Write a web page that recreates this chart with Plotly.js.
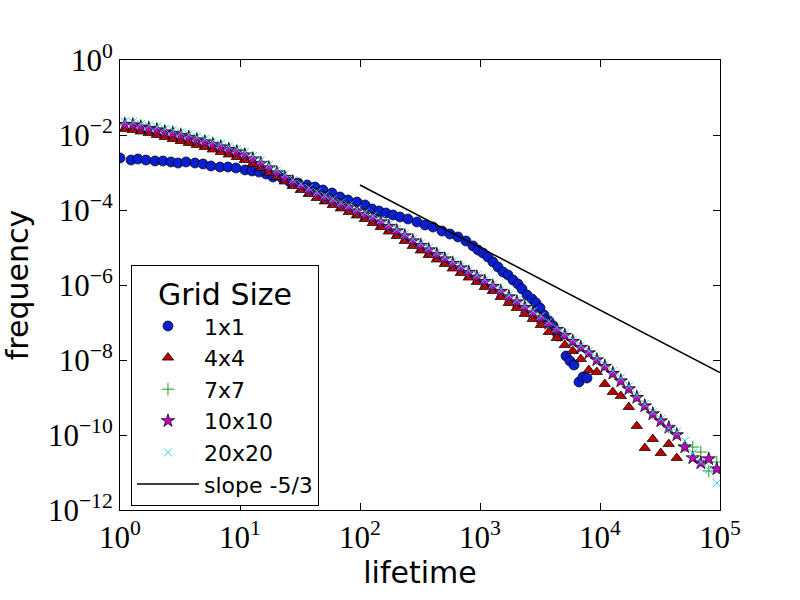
<!DOCTYPE html>
<html>
<head>
<meta charset="utf-8">
<script src="https://cdn.plot.ly/plotly-3.0.1.min.js"></script>
<style>html,body{margin:0;padding:0;background:#fff;}#chart{width:800px;height:600px;}</style>
</head>
<body>
<div id="chart"></div>
<script>
// ---- data ----
const lifetimeBins = [1.0965, 1.2786, 1.4906, 1.7378, 2.026, 2.362, 2.754, 3.211, 3.743, 4.365, 5.089, 5.933, 6.918, 8.065, 9.405,
  10.965, 12.786, 14.906, 17.378, 20.26, 23.62, 27.54, 32.11, 37.43, 43.65, 50.89, 59.33, 69.18, 80.65, 94.05,
  109.65, 127.86, 149.06, 173.78, 202.6, 236.2, 275.4, 321.1, 374.3, 436.5, 508.9, 593.3, 691.8, 806.5, 940.5,
  1096.5, 1278.6, 1490.6, 1737.8, 2026, 2362, 2754, 3211, 3743, 4365, 5089, 5933, 6918, 8065, 9405,
  10965, 12786, 14906, 17378, 20260, 23620, 27540, 32110, 37430, 43650, 50890, 59330, 69180, 80650, 94050];

const lifetime1x1 = [1.0, 1.235, 1.413, 1.647, 1.957, 2.282, 2.661, 3.043, 3.548, 4.217, 4.916, 5.731, 6.813, 7.943, 9.261,
  11.01, 12.59, 14.40, 16.47, 18.84, 22.39, 26.10, 30.43, 36.16, 42.17, 49.16, 58.45, 68.13, 79.43, 94.41,
  110.1, 125.9, 144.0, 164.7, 188.4, 215.4, 251.2, 298.5, 348.1, 405.8, 482.4, 562.3, 655.6, 764.2, 874.5,
  962.7, 1059, 1166, 1283, 1413, 1555, 1712, 1884, 2074, 2239, 2465, 2714, 2929, 3162, 3415, 3758, 4058, 4467,
  5210, 5623, 6072, 6683, 7217, 7794];
const freq1x1 = [2.44e-3, 2.15e-3, 2.29e-3, 2.15e-3, 2.03e-3, 2.03e-3, 1.91e-3, 1.79e-3, 1.91e-3, 1.79e-3, 1.69e-3, 1.49e-3, 1.40e-3, 1.40e-3, 1.32e-3,
  1.17e-3, 1.10e-3, 1.03e-3, 9.12e-4, 7.59e-4, 7.13e-4, 5.58e-4, 5.25e-4, 4.64e-4, 4.10e-4, 3.41e-4, 2.84e-4, 2.22e-4, 1.85e-4, 1.63e-4,
  1.36e-4, 1.06e-4, 9.4e-5, 8.32e-5, 7.36e-5, 6.5e-5, 5.75e-5, 4.79e-5, 3.98e-5, 3.52e-5, 2.75e-5, 2.29e-5, 1.91e-5, 1.49e-5, 1.10e-5,
  8.58e-6, 7.13e-6, 5.58e-6, 4.10e-6, 3.02e-6, 2.22e-6, 1.85e-6, 1.36e-6, 1.06e-6, 7.82e-7, 5.41e-7, 4.23e-7, 3.31e-7, 2.44e-7, 1.58e-7, 1.10e-7, 8.07e-8, 4.37e-8,
  1.28e-8, 9.4e-9, 7.36e-9, 2.59e-9, 3.52e-9, 3.31e-9];

const freq4x4 = [1.45e-2, 1.36e-2, 1.24e-2, 1.13e-2, 1.0e-2, 8.85e-3, 7.82e-3, 6.92e-3, 6.12e-3, 5.41e-3, 4.79e-3, 4.10e-3, 3.52e-3, 3.02e-3, 2.59e-3,
  2.15e-3, 1.69e-3, 1.32e-3, 1.0e-3, 7.59e-4, 5.75e-4, 4.37e-4, 3.41e-4, 2.67e-4, 2.09e-4, 1.69e-4, 1.36e-4, 1.10e-4, 8.85e-5, 7.13e-5,
  5.75e-5, 4.5e-5, 3.52e-5, 2.67e-5, 2.03e-5, 1.49e-5, 1.10e-5, 8.32e-6, 6.31e-6, 4.79e-6, 3.63e-6, 2.75e-6, 2.09e-6, 1.58e-6, 1.20e-6,
  8.85e-7, 6.92e-7, 4.79e-7, 3.31e-7, 2.44e-7, 1.69e-7, 1.24e-7, 8.58e-8, 5.58e-8, 3.86e-8, 2.51e-8, 1.74e-8, 1.06e-8, 5.41e-9, 4.79e-9,
  2.29e-9, 1.40e-9, 1.10e-9, 5.58e-10, 1.74e-10, 4.5e-11, 7.82e-11, 3.31e-11, 5.75e-11, 2.44e-11];

const freq7x7 = [2.10e-2, 2.04e-2, 1.79e-2, 1.64e-2, 1.50e-2, 1.32e-2, 1.21e-2, 1.07e-2, 9.44e-3, 8.1e-3, 7.15e-3, 6.14e-3, 5.27e-3, 4.51e-3, 3.87e-3,
  3.22e-3, 2.52e-3, 1.91e-3, 1.45e-3, 1.07e-3, 8.1e-4, 6.14e-4, 4.81e-4, 3.75e-4, 2.94e-4, 2.37e-4, 1.91e-4, 1.54e-4, 1.29e-4, 1.03e-4,
  8.35e-5, 6.73e-5, 5.27e-5, 3.99e-5, 3.03e-5, 2.23e-5, 1.64e-5, 1.24e-5, 9.44e-6, 7.15e-6, 5.42e-6, 4.11e-6, 3.12e-6, 2.37e-6, 1.79e-6,
  1.36e-6, 1.0e-6, 7.38e-7, 5.27e-7, 3.87e-7, 2.76e-7, 1.97e-7, 1.45e-7, 1.03e-7, 7.15e-8, 4.95e-8, 3.42e-8, 2.37e-8, 1.69e-8, 1.1e-8,
  7.38e-9, 4.81e-9, 3.03e-9, 1.86e-9, 1.1e-9, 6.52e-10, 3.99e-10, 2.6e-10, 1.63e-10, 1.13e-10, 5.09e-11, 4.79e-11, 3.52e-11, 1.10e-11, 1.91e-11];

const freq10x10 = [1.905e-2, 1.85e-2, 1.63e-2, 1.49e-2, 1.36e-2, 1.20e-2, 1.10e-2, 9.7e-3, 8.58e-3, 7.36e-3, 6.5e-3, 5.58e-3, 4.79e-3, 4.10e-3, 3.52e-3,
  2.93e-3, 2.29e-3, 1.74e-3, 1.32e-3, 9.7e-4, 7.36e-4, 5.58e-4, 4.37e-4, 3.41e-4, 2.67e-4, 2.15e-4, 1.74e-4, 1.40e-4, 1.17e-4, 9.4e-5,
  7.59e-5, 6.12e-5, 4.79e-5, 3.63e-5, 2.75e-5, 2.03e-5, 1.49e-5, 1.13e-5, 8.58e-6, 6.5e-6, 4.93e-6, 3.74e-6, 2.84e-6, 2.15e-6, 1.63e-6,
  1.24e-6, 9.12e-7, 6.71e-7, 4.79e-7, 3.52e-7, 2.51e-7, 1.79e-7, 1.32e-7, 9.4e-8, 6.5e-8, 4.5e-8, 3.11e-8, 2.15e-8, 1.54e-8, 1.0e-8,
  6.71e-9, 4.37e-9, 2.75e-9, 1.69e-9, 1.0e-9, 5.93e-10, 3.63e-10, 2.36e-10, 1.58e-10, 1.0e-10, 4.79e-11, 2.44e-11, 1.79e-11, 2.29e-11, 1.24e-11];

const freq20x20 = [2.29e-2, 2.22e-2, 1.97e-2, 1.79e-2, 1.63e-2, 1.45e-2, 1.32e-2, 1.17e-2, 1.03e-2, 8.85e-3, 7.82e-3, 6.71e-3, 5.75e-3, 4.93e-3, 4.23e-3,
  3.52e-3, 2.75e-3, 2.09e-3, 1.58e-3, 1.17e-3, 8.85e-4, 6.31e-4, 4.94e-4, 3.85e-4, 3.02e-4, 2.43e-4, 1.97e-4, 1.58e-4, 1.32e-4, 1.06e-4,
  8.58e-5, 6.92e-5, 5.41e-5, 4.10e-5, 3.11e-5, 2.29e-5, 1.68e-5, 1.28e-5, 9.7e-6, 7.35e-6, 5.57e-6, 4.23e-6, 3.21e-6, 2.43e-6, 1.84e-6,
  1.40e-6, 1.03e-6, 7.58e-7, 5.41e-7, 3.98e-7, 2.84e-7, 2.02e-7, 1.49e-7, 1.06e-7, 7.35e-8, 5.09e-8, 3.51e-8, 2.43e-8, 1.74e-8, 1.13e-8,
  7.58e-9, 5.09e-9, 3.31e-9, 2.03e-9, 1.17e-9, 6.71e-10, 4.10e-10, 2.67e-10, 1.54e-10, 1.20e-10, 6.92e-11, 3.31e-11, 1.91e-11, 1.17e-11, 5.25e-12];

const slopeX = [100, 100000];
const slopeY = [4.64e-4, 4.64e-9];

const seriesNames = ['1x1', '4x4', '7x7', '10x10', '20x20', 'slope -5/3'];
const xTickVals = [1, 10, 100, 1000, 10000, 100000];
const xTickText = ['10<sup>0</sup>', '10<sup>1</sup>', '10<sup>2</sup>', '10<sup>3</sup>', '10<sup>4</sup>', '10<sup>5</sup>'];
const yTickVals = [1, 1e-2, 1e-4, 1e-6, 1e-8, 1e-10, 1e-12];
const yTickText = ['10<sup>0</sup>', '10<sup>−2</sup>', '10<sup>−4</sup>', '10<sup>−6</sup>', '10<sup>−8</sup>', '10<sup>−10</sup>', '10<sup>−12</sup>'];

// ---- traces ----
const traces = [
  {x: lifetime1x1, y: freq1x1, name: seriesNames[0], mode: 'markers', type: 'scatter', legendgroup: 'a',
   marker: {symbol: 'circle', size: 10, color: '#0a1fd2', line: {color: '#000', width: 0.7}}},
  {x: lifetimeBins.slice(0, freq4x4.length), y: freq4x4, name: seriesNames[1], mode: 'markers', type: 'scatter', legendgroup: 'b',
   marker: {symbol: 'triangle-up', size: 10, color: '#b80000', line: {color: '#000', width: 0.7}}},
  {x: lifetimeBins.slice(0, freq7x7.length), y: freq7x7, name: seriesNames[2], mode: 'markers', type: 'scatter', legendgroup: 'c',
   marker: {symbol: 'cross-thin-open', size: 9, color: '#1a9a1a', line: {color: '#1a9a1a', width: 1}}},
  {x: lifetimeBins.slice(0, freq10x10.length), y: freq10x10, name: seriesNames[3], mode: 'markers', type: 'scatter', legendgroup: 'd',
   marker: {symbol: 'star', size: 10, color: '#bf00bf', line: {color: '#000', width: 0.7}}},
  {x: lifetimeBins.slice(0, freq20x20.length), y: freq20x20, name: seriesNames[4], mode: 'markers', type: 'scatter', legendgroup: 'e',
   marker: {symbol: 'x-thin-open', size: 8, color: '#22d4d4', line: {color: '#22d4d4', width: 1}}},
  {x: slopeX, y: slopeY, name: seriesNames[5], mode: 'lines', type: 'scatter', legendgroup: 'f',
   line: {color: '#000', width: 1.5}}
];

const tickFont = {family: 'Liberation Serif, DejaVu Serif, serif', size: 31, color: '#000'};
const layout = {
  width: 800, height: 600,
  margin: {l: 120, r: 80, t: 60, b: 90},
  paper_bgcolor: '#fff', plot_bgcolor: '#fff',
  font: {family: 'DejaVu Sans, sans-serif', color: '#000'},
  showlegend: true,
  xaxis: {
    type: 'log', range: [0, 5], tickvals: xTickVals, ticktext: xTickText,
    ticks: 'inside', ticklen: 7, tickcolor: '#000', tickwidth: 1,
    showline: true, linecolor: '#000', linewidth: 1, mirror: 'ticks',
    showgrid: false, zeroline: false, tickfont: tickFont, automargin: true,
    title: {text: 'lifetime', font: {size: 30, family: 'DejaVu Sans, sans-serif'}, standoff: 4}
  },
  yaxis: {
    type: 'log', range: [-12, 0], tickvals: yTickVals, ticktext: yTickText,
    ticks: 'inside', ticklen: 7, tickcolor: '#000', tickwidth: 1,
    showline: true, linecolor: '#000', linewidth: 1, mirror: 'ticks',
    showgrid: false, zeroline: false, tickfont: tickFont, automargin: true,
    title: {text: 'frequency', font: {size: 30, family: 'DejaVu Sans, sans-serif'}, standoff: 16}
  },
  legend: {
    x: 0.0183, y: 0.544, xanchor: 'left', yanchor: 'top',
    bgcolor: '#fff', bordercolor: '#000', borderwidth: 1,
    font: {size: 22, family: 'DejaVu Sans, sans-serif', color: '#000'},
    title: {text: 'Grid Size', side: 'top center', font: {size: 30, family: 'DejaVu Sans, sans-serif'}},
    itemwidth: 62, tracegroupgap: 0, traceorder: 'grouped'
  }
};

Plotly.newPlot('chart', traces, layout, {displayModeBar: false, staticPlot: true});
</script>
</body>
</html>
